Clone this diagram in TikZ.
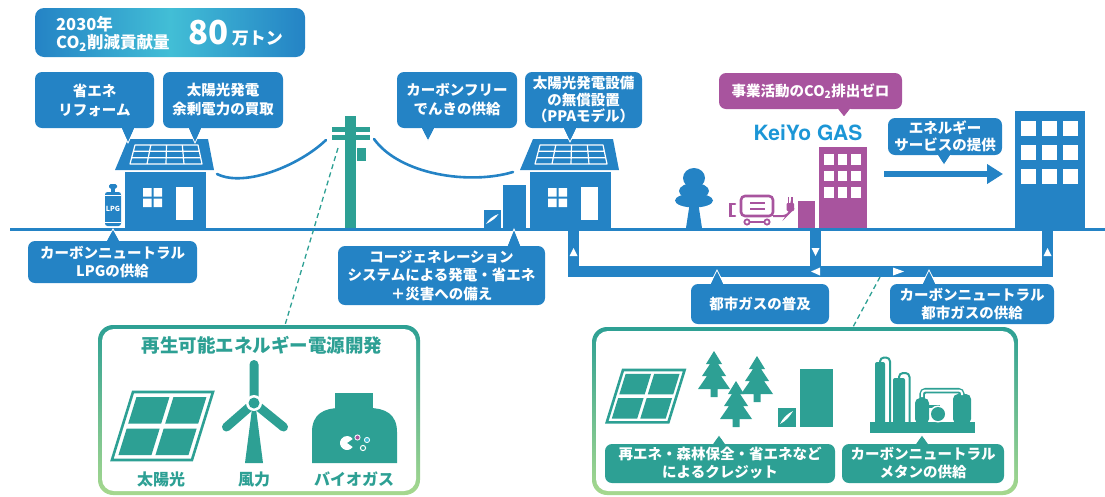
\documentclass[tikz,border=0pt]{standalone}
\usepackage{fontspec}
\setmainfont{Noto Sans CJK JP}
\newfontfamily\logofont{TeX Gyre Heros}
\usetikzlibrary{calc,arrows.meta}

\definecolor{cblue}{RGB}{36,131,197}
\definecolor{ccyan}{RGB}{66,190,214}
\definecolor{cteal}{RGB}{45,160,148}
\definecolor{cpurple}{RGB}{168,84,158}
\definecolor{cgreen}{RGB}{166,216,142}
\definecolor{clogo}{RGB}{28,150,214}

\newcommand\bubfont{\bfseries\fontsize{14.5}{19}\selectfont}

% speech-bubble tails: node, colour, tip coordinate
\newcommand\taildown[3]{%
  \fill[#2] ($(#1.south -| #3)+(-7,-2)$) -- (#3) -- ($(#1.south -| #3)+(7,-2)$) -- cycle;
  \draw[white, line width=0.8pt] ($(#1.south -| #3)+(-7,0)$) -- (#3) -- ($(#1.south -| #3)+(7,0)$);}
\newcommand\tailup[3]{%
  \fill[#2] ($(#1.north -| #3)+(-7,2)$) -- (#3) -- ($(#1.north -| #3)+(7,2)$) -- cycle;
  \draw[white, line width=0.8pt] ($(#1.north -| #3)+(-7,0)$) -- (#3) -- ($(#1.north -| #3)+(7,0)$);}

\tikzset{
  bub/.style={rounded corners=7pt, text=white, align=center, inner sep=0pt, font=\bubfont},
  bluebub/.style={bub, fill=cblue},
  tealbub/.style={bub, fill=cteal},
  purplebub/.style={bub, fill=cpurple},
  win/.style={fill=white},
  pipe/.style={cblue, line width=11.5pt, line join=miter},
  flow/.style={fill=white},
  wire/.style={cblue, line width=2.6pt, line cap=round},
  hint/.style={cteal, line width=1.3pt, dash pattern=on 5pt off 3.5pt},
  iconlabel/.style={text=cteal, font=\bfseries\fontsize{16}{16}\selectfont, inner sep=0pt},
  frame/.style={rounded corners=15pt, top color=cteal, bottom color=cgreen, inner sep=0pt},
  % house with solar roof, origin = lower left corner of the wall
  home/.pic={
    \fill[cblue] (3,-89) -- (83,-89) -- (89,-58) -- (-10,-58) -- cycle;
    \draw[white, line width=1.2pt, line join=round]
      (10,-83) -- (73,-83) -- (77,-64) -- (5,-64) -- cycle
      (8.3,-76.7) -- (74.3,-76.7) (6.7,-70.3) -- (75.7,-70.3)
      (25.8,-83) -- (22,-64) (41.5,-83) -- (41,-64) (57.3,-83) -- (59,-64);
    \fill[cblue] (0,-56) rectangle (81,0);
    \fill[white] (18,-40) rectangle (26.5,-31.5) (28.5,-40) rectangle (37,-31.5)
                 (18,-29.5) rectangle (26.5,-21) (28.5,-29.5) rectangle (37,-21);
    \fill[white] (51,-41) rectangle (68,-8);
  },
  % cogeneration unit: small box with flame, tall cabinet
  cogen/.pic={
    \fill[cteal] (0,-19) rectangle (18,0);
    \fill[white] (2,-3) .. controls (5,-9) and (9,-13) .. (15,-16)
                 .. controls (12,-11) and (8,-6) .. (2,-3) -- cycle;
    \fill[cteal] (22,-58) rectangle (55,0);
  },
  % solar panel in perspective
  panel/.pic={
    \begin{scope}[xslant=0.31]
      \draw[cteal, line width=2.6pt, line join=miter] (0,0) rectangle (80,68);
      \fill[cteal] (5,5) rectangle (38,31.5) (42,5) rectangle (75,31.5)
                   (5,36.5) rectangle (38,63) (42,36.5) rectangle (75,63);
    \end{scope}
  },
  % conifer
  pine/.pic={
    \fill[cteal] (0,0) -- (8,13) -- (4,13) -- (12,25) -- (7,25) -- (16,38) -- (3.5,38)
      -- (3.5,46) -- (-3.5,46) -- (-3.5,38) -- (-16,38) -- (-7,25) -- (-12,25)
      -- (-4,13) -- (-8,13) -- cycle;
  },
}

\begin{document}
\begin{tikzpicture}[x=1pt, y=-1pt]
\useasboundingbox (0,0) rectangle (1105,496);

% ---------- ground ----------
\coordinate (gL) at (10,229.5);
\coordinate (gR) at (1105,229.5);
\draw[cblue, line width=3pt] (gL) -- (gR);

% ---------- city-gas pipe network ----------
\coordinate (pA) at (573.5,229);   \coordinate (pAb) at (573.5,271.5);
\coordinate (pB) at (815.5,229);   \coordinate (pBb) at (815.5,271.5);
\coordinate (pC) at (1047.5,229);  \coordinate (pCb) at (1047.5,271.5);
\draw[pipe] (pA) -- (pAb) -- (pCb) -- (pC);
\draw[pipe] (pB) -- (pBb);
\fill[flow] (569.5,256) -- (573.5,248) -- (577.5,256) -- cycle;
\fill[flow] (811.5,248) -- (815.5,256) -- (819.5,248) -- cycle;
\fill[flow] (1043.5,256) -- (1047.5,248) -- (1051.5,256) -- cycle;
\fill[flow] (820,267.5) -- (811,271.5) -- (820,275.5) -- cycle;
\fill[flow] (893,267.5) -- (904,271.5) -- (893,275.5) -- cycle;

% ---------- banner ----------
\node[rounded corners=9pt, left color=cblue, right color=cblue, middle color=ccyan,
      minimum width=270, minimum height=49, inner sep=0pt] (banner) at (170,32.5) {};
\node[anchor=west, text=white, align=left, inner sep=0pt,
      font=\bfseries\fontsize{16.5}{18.5}\selectfont] (goal) at (56,33.5)
      {2030年\\CO\textsubscript{2}削減貢献量};
\node[anchor=base west, text=white, inner sep=0pt] (amount) at (188,44)
      {\bfseries\fontsize{33}{33}\selectfont 80};
\node[anchor=base west, text=white, inner sep=0pt, font=\bfseries\fontsize{17}{17}\selectfont]
      (unit) at ([xshift=3pt]amount.base east) {万トン};

% ---------- houses ----------
\pic (houseA) at (125,228) {home};
\pic (houseB) at (530,228) {home};

% LPG cylinder
\fill[cblue, rounded corners=1.5pt] (109,184) rectangle (117,188.5);
\fill[cblue] (111,188) rectangle (115,193);
\fill[cblue, rounded corners=2.5pt] (105,192) rectangle (121,226);
\draw[white, line width=0.8pt] (105,195.5) -- (121,195.5) (105,222) -- (121,222);
\node[text=white, font=\bfseries\fontsize{7}{7}\selectfont, inner sep=0pt] (lpg) at (113,209) {LPG};

% cogeneration next to the second house
\fill[cblue] (484,210) rectangle (501,228);
\fill[white] (486,224) .. controls (489,219) and (493,216) .. (498.5,214)
             .. controls (496,218) and (492,221) .. (486,224) -- cycle;
\fill[cblue] (503,185) rectangle (526,228);

% ---------- utility pole and wires ----------
\fill[cteal] (345,116) rectangle (356,228);
\fill[cteal] (332,127) rectangle (370,132);
\fill[cteal] (332,135) rectangle (370,140);
\fill[cteal] (357,148) rectangle (366,161);
\coordinate (wireA) at (217,174);
\coordinate (poleL) at (326,140);
\coordinate (poleR) at (374,139);
\coordinate (wireB) at (513,172);
\draw[wire] (wireA) .. controls (245,188) and (300,165) .. (poleL);
\draw[wire] (poleR) .. controls (400,175) and (470,185) .. (wireB);

% ---------- tree ----------
\fill[cblue] (689.5,205) -- (698.5,205) -- (702,228) -- (686,228) -- cycle;
\fill[cblue] (694,178) ellipse [x radius=11, y radius=10];
\fill[cblue] (694,191) ellipse [x radius=15, y radius=8];
\fill[cblue] (694,200.5) ellipse [x radius=19, y radius=7];

% ---------- EV charging ----------
\draw[cpurple, line width=2.6pt, line cap=round] (735,204) -- (730.5,204) -- (730.5,216) -- (735,216);
\draw[cpurple, line width=2.6pt, rounded corners=4pt] (741,196) rectangle (773,216);
\draw[cpurple, line width=2pt] (750,203) -- (765,203) (750,208.5) -- (765,208.5);
\draw[cpurple, line width=1.8pt] (747,222) circle (2.6) (767,222) circle (2.6) (750,222) -- (764,222);
\draw[cpurple, line width=2pt, rounded corners=3pt] (773,216) -- (786,216) -- (790,212) -- (790,210);
\fill[cpurple, rounded corners=1pt] (786.5,203) rectangle (794,211);
\draw[cpurple, line width=1.5pt] (788.5,197) -- (788.5,203) (792,197) -- (792,203);

% ---------- company building ----------
\fill[cpurple] (798,201) rectangle (815,228);
\fill[cpurple] (819,147) rectangle (867,228);
\foreach \cx in {824,837.5,851}
  \foreach \cy in {154,170.5,187}
    \fill[win] (\cx,\cy) rectangle ++(9.5,10.5);
\node[text=clogo, font=\logofont\bfseries\fontsize{21}{21}\selectfont, inner sep=0pt] (logo) at (808,133) {KeiYo GAS};

% ---------- energy service arrow and customer building ----------
\coordinate (svcFrom) at (884,174);
\coordinate (svcTo) at (1003,174);
\draw[cblue, line width=6pt, -{Triangle[length=16pt, width=19pt]}] (svcFrom) -- (svcTo);
\fill[cblue] (1015,111) rectangle (1085,228);
\foreach \cx in {1021,1042,1063}
  \foreach \cy in {121,145,169}
    \fill[win] (\cx,\cy) rectangle ++(15,15);

% ---------- upper callouts ----------
\node[bluebub, minimum width=119, minimum height=56] (reform) at (94.5,100) {省エネ\\リフォーム};
\coordinate (reformTip) at (128,143);
\taildown{reform}{cblue}{reformTip}

\node[bluebub, minimum width=120, minimum height=56] (surplus) at (223,100) {太陽光発電\\余剰電力の買取};
\coordinate (surplusTip) at (195,143);
\taildown{surplus}{cblue}{surplusTip}

\node[bluebub, minimum width=120, minimum height=56] (cfree) at (457,100) {カーボンフリー\\でんきの供給};
\coordinate (cfreeTip) at (428,141);
\taildown{cfree}{cblue}{cfreeTip}

\node[bluebub, minimum width=117, minimum height=56, font=\bfseries\fontsize{14.5}{16.5}\selectfont]
  (ppa) at (583.5,100) {太陽光発電設備\\の無償設置\\（PPAモデル）};
\coordinate (ppaTip) at (570,142);
\taildown{ppa}{cblue}{ppaTip}

\node[purplebub, minimum width=183, minimum height=36] (zero) at (810.5,91) {事業活動のCO\textsubscript{2}排出ゼロ};
\coordinate (zeroTip) at (844,117);
\taildown{zero}{cpurple}{zeroTip}

\node[bluebub, minimum width=114, minimum height=37, font=\bfseries\fontsize{14.5}{17}\selectfont]
  (service) at (945,136.5) {エネルギー\\サービスの提供};
\coordinate (serviceTip) at (944,165);
\taildown{service}{cblue}{serviceTip}

% ---------- lower callouts ----------
\node[bluebub, minimum width=169, minimum height=42, font=\bfseries\fontsize{14.5}{18}\selectfont]
  (lpgsup) at (112.5,262) {カーボンニュートラル\\LPGの供給};
\coordinate (lpgTip) at (113,229);
\tailup{lpgsup}{cblue}{lpgTip}

\node[bluebub, minimum width=207, minimum height=59, font=\bfseries\fontsize{14.5}{18.5}\selectfont]
  (cogenb) at (441.5,275.5) {コージェネレーション\\システムによる発電・省エネ\\＋災害への備え};
\coordinate (cogenTip) at (514,229);
\tailup{cogenb}{cblue}{cogenTip}

\node[bluebub, minimum width=138, minimum height=40] (spread) at (760,304) {都市ガスの普及};
\coordinate (spreadTip) at (717,270);
\tailup{spread}{cblue}{spreadTip}

\node[bluebub, minimum width=164, minimum height=40, font=\bfseries\fontsize{14.5}{18}\selectfont]
  (cngas) at (972,304) {カーボンニュートラル\\都市ガスの供給};
\coordinate (cngasTip) at (929,270);
\tailup{cngas}{cblue}{cngasTip}

% ---------- renewable power panel ----------
\node[frame, minimum width=322, minimum height=170] (renew) at (259,410) {};
\node[fill=white, rounded corners=12pt, minimum width=314, minimum height=162, inner sep=0pt]
  (renewIn) at (renew.center) {};
\coordinate (poleTap) at (338,148);
\coordinate (renewTop) at (285,325);
\draw[hint] (poleTap) -- (renewTop);
\node[text=cteal, font=\bfseries\fontsize{18.5}{18.5}\selectfont, inner sep=0pt] (renewTitle)
  at (262,345) {再生可能エネルギー電源開発};

\pic (solarIcon) at (133,392) {panel};

% wind turbine
\coordinate (hub) at (254,403);
\fill[cteal] (252.5,405) -- (255.5,405) -- (263,463) -- (245,463) -- cycle;
\draw[cteal, line width=9pt, line cap=round] (hub) -- (254,364.5) (hub) -- (226.5,427) (hub) -- (283.5,427);
\fill[white] (hub) circle (8);
\fill[cteal] (hub) circle (5.5);

% biogas tank
\fill[cteal] (335,393) rectangle (373,410);
\fill[cteal] (312,463) -- (312,432) .. controls (312,414) and (324,408) .. (340,408)
  -- (369,408) .. controls (385,408) and (397,414) .. (397,432) -- (397,463) -- cycle;
\fill[white] (347,443) -- ++(35:7) arc[start angle=35, end angle=325, radius=7] -- cycle;
\fill[cpurple, draw=white, line width=0.8pt] (357.5,437.5) circle (2.6);
\fill[ccyan, draw=white, line width=0.8pt] (367,440) circle (2.6);
\draw[white, line width=1pt] (363,448) circle (2.6);

\node[iconlabel] (lblSolar) at (161,479) {太陽光};
\node[iconlabel] (lblWind) at (254,479) {風力};
\node[iconlabel] (lblBio) at (354,479) {バイオガス};

% ---------- offsetting panel ----------
\node[frame, minimum width=426, minimum height=168] (offset) at (805,411) {};
\node[fill=white, rounded corners=12pt, minimum width=418, minimum height=160, inner sep=0pt]
  (offsetIn) at (offset.center) {};
\coordinate (pipeTap) at (880,277);
\coordinate (offsetTop) at (853,327);
\draw[hint] (pipeTap) -- (offsetTop);

\pic[scale=0.77] (solarSmall) at (623,370) {panel};
\pic (pineA) at (714,351) {pine};
\pic (pineB) at (757,356) {pine};
\pic (pineC) at (736,381) {pine};
\pic (cogenIcon) at (778,427) {cogen};

% methanation plant
\fill[cteal] (870,422) rectangle (975,433);
\fill[cteal, rounded corners=2pt] (875,362) rectangle (885,424);
\draw[cteal, line width=2pt, rounded corners=4pt] (880,362) -- (880,357.5) -- (890,357.5) -- (890,424);
\fill[cteal, rounded corners=2pt] (893,378) rectangle (905,424);
\draw[cteal, line width=2pt, rounded corners=4pt] (899,378) -- (899,373) -- (909.5,373) -- (909.5,424);
\fill[cteal, rounded corners=5pt] (915,398) rectangle (929,424);
\fill[cteal, rounded corners=5pt] (953,394) rectangle (971,424);
\draw[cteal, line width=5.5pt, rounded corners=4pt] (922,400) -- (922,390.5) -- (962,390.5) -- (962,396);
\draw[white, line width=2pt, rounded corners=3pt] (922,397) -- (922,390.5) -- (962,390.5) -- (962,395);
\fill[cteal] (929,405) rectangle (940,408);
\fill[white] (938,414) circle (8.5);
\fill[cteal] (938,414) circle (7);

\node[tealbub, minimum width=230, minimum height=39, font=\bfseries\fontsize{14.5}{18}\selectfont]
  (creditb) at (720,463.5) {再エネ・森林保全・省エネなど\\によるクレジット};
\coordinate (creditTip) at (719,435);
\tailup{creditb}{cteal}{creditTip}

\node[tealbub, minimum width=162, minimum height=39, font=\bfseries\fontsize{14.5}{18}\selectfont]
  (methane) at (923,463.5) {カーボンニュートラル\\メタンの供給};
\coordinate (methaneTip) at (922,435);
\tailup{methane}{cteal}{methaneTip}

\end{tikzpicture}
\end{document}
